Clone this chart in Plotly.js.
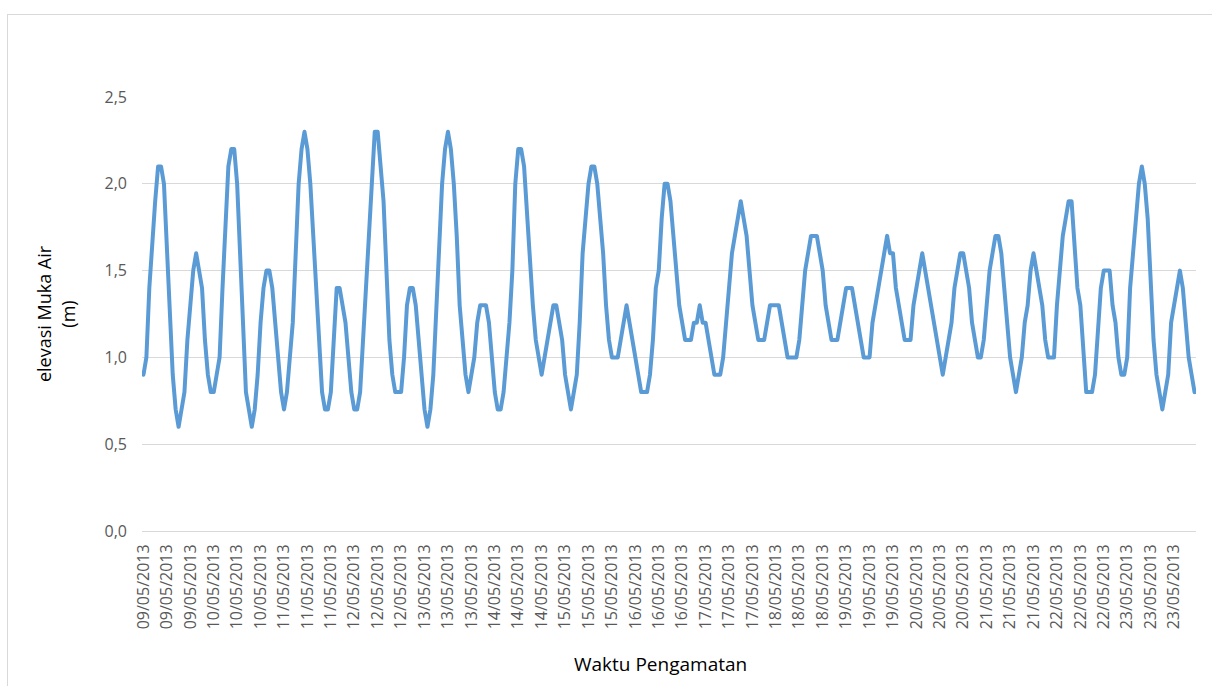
<!DOCTYPE html>
<html>
<head>
<meta charset="utf-8">
<script src="https://cdn.plot.ly/plotly-3.0.1.min.js"></script>
<style>
  html, body { margin: 0; padding: 0; background: #fff; overflow: hidden; }
  #chart { width: 1212px; height: 686px; }
  #frame { position: absolute; left: 7px; top: 14px; width: 1230px; height: 700px;
           border: 1px solid #d9d9d9; pointer-events: none; }
  #chart path.js-line { stroke-linejoin: round !important; stroke-linecap: round !important; }
</style>
</head>
<body>
<div id="chart"></div>
<div id="frame"></div>
<script>
// Elevasi muka air (m), pengamatan per jam, 24 nilai per hari
const h0905 = [0.9,1.0,1.4,1.7,1.9,2.1,2.1,2.0,1.6,1.2,0.9,0.7,0.6,0.7,0.8,1.1,1.3,1.5,1.6,1.5,1.4,1.1,0.9,0.8];
const h1005 = [0.8,0.9,1.0,1.4,1.8,2.1,2.2,2.2,2.0,1.6,1.1,0.8,0.7,0.6,0.7,0.9,1.2,1.4,1.5,1.5,1.4,1.2,1.0,0.8];
const h1105 = [0.7,0.8,1.0,1.2,1.6,2.0,2.2,2.3,2.2,2.0,1.7,1.4,1.0,0.8,0.7,0.7,0.8,1.1,1.4,1.4,1.3,1.2,1.0,0.8];
const h1205 = [0.7,0.7,0.8,1.1,1.5,1.8,2.1,2.3,2.3,2.1,1.9,1.5,1.1,0.9,0.8,0.8,0.8,1.0,1.3,1.4,1.4,1.3,1.1,0.9];
const h1305 = [0.7,0.6,0.7,0.9,1.3,1.6,2.0,2.2,2.3,2.2,2.0,1.7,1.3,1.1,0.9,0.8,0.9,1.0,1.2,1.3,1.3,1.3,1.2,1.0];
const h1405 = [0.8,0.7,0.7,0.8,1.0,1.2,1.5,2.0,2.2,2.2,2.1,1.8,1.6,1.3,1.1,1.0,0.9,1.0,1.1,1.2,1.3,1.3,1.2,1.1];
const h1505 = [0.9,0.8,0.7,0.8,0.9,1.2,1.6,1.8,2.0,2.1,2.1,2.0,1.8,1.6,1.3,1.1,1.0,1.0,1.0,1.1,1.2,1.3,1.2,1.1];
const h1605 = [1.0,0.9,0.8,0.8,0.8,0.9,1.1,1.4,1.5,1.8,2.0,2.0,1.9,1.7,1.5,1.3,1.2,1.1,1.1,1.1,1.2,1.2,1.3,1.2];
const h1705 = [1.2,1.1,1.0,0.9,0.9,0.9,1.0,1.2,1.4,1.6,1.7,1.8,1.9,1.8,1.7,1.5,1.3,1.2,1.1,1.1,1.1,1.2,1.3,1.3];
const h1805 = [1.3,1.3,1.2,1.1,1.0,1.0,1.0,1.0,1.1,1.3,1.5,1.6,1.7,1.7,1.7,1.6,1.5,1.3,1.2,1.1,1.1,1.1,1.2,1.3];
const h1905 = [1.4,1.4,1.4,1.3,1.2,1.1,1.0,1.0,1.0,1.2,1.3,1.4,1.5,1.6,1.7,1.6,1.6,1.4,1.3,1.2,1.1,1.1,1.1,1.3];
const h2005 = [1.4,1.5,1.6,1.5,1.4,1.3,1.2,1.1,1.0,0.9,1.0,1.1,1.2,1.4,1.5,1.6,1.6,1.5,1.4,1.2,1.1,1.0,1.0,1.1];
const h2105 = [1.3,1.5,1.6,1.7,1.7,1.6,1.4,1.2,1.0,0.9,0.8,0.9,1.0,1.2,1.3,1.5,1.6,1.5,1.4,1.3,1.1,1.0,1.0,1.0];
const h2205 = [1.3,1.5,1.7,1.8,1.9,1.9,1.6,1.4,1.3,1.0,0.8,0.8,0.8,0.9,1.2,1.4,1.5,1.5,1.5,1.3,1.2,1.0,0.9,0.9];
const h2305 = [1.0,1.4,1.6,1.8,2.0,2.1,2.0,1.8,1.4,1.1,0.9,0.8,0.7,0.8,0.9,1.2,1.3,1.4,1.5,1.4,1.2,1.0,0.9,0.8];

const tickLabels = [
  "09/05/2013","09/05/2013","09/05/2013","10/05/2013","10/05/2013","10/05/2013",
  "11/05/2013","11/05/2013","11/05/2013","12/05/2013","12/05/2013","12/05/2013",
  "13/05/2013","13/05/2013","13/05/2013","14/05/2013","14/05/2013","14/05/2013",
  "15/05/2013","15/05/2013","15/05/2013","16/05/2013","16/05/2013","16/05/2013",
  "17/05/2013","17/05/2013","17/05/2013","18/05/2013","18/05/2013","18/05/2013",
  "19/05/2013","19/05/2013","19/05/2013","20/05/2013","20/05/2013","20/05/2013",
  "21/05/2013","21/05/2013","21/05/2013","22/05/2013","22/05/2013","22/05/2013",
  "23/05/2013","23/05/2013","23/05/2013"
];

const xTitle = 'Waktu Pengamatan';
const yTitle = 'elevasi Muka Air<br>(m)';

const elevasi = [].concat(h0905,h1005,h1105,h1205,h1305,h1405,h1505,h1605,
                          h1705,h1805,h1905,h2005,h2105,h2205,h2305);
const jam = elevasi.map((_, i) => i);
const labelStep = elevasi.length / tickLabels.length;
const tickPos = tickLabels.map((_, i) => i * labelStep);

const FONT = 'Open Sans, Liberation Sans, sans-serif';

const trace = {
  x: jam, y: elevasi, type: 'scatter', mode: 'lines',
  line: { color: '#5b9bd5', width: 4 },
  hoverinfo: 'skip'
};

const layout = {
  width: 1212, height: 686,
  margin: { l: 142, r: 16, t: 97, b: 155, pad: 0 },
  paper_bgcolor: '#ffffff', plot_bgcolor: '#ffffff',
  separators: ', ',
  showlegend: false,
  xaxis: {
    range: [-0.5, elevasi.length - 0.5],
    tickmode: 'array', tickvals: tickPos, ticktext: tickLabels,
    tickangle: -90, ticks: '', ticklen: 0, ticklabelstandoff: 6,
    tickfont: { family: FONT, size: 16, color: '#595959' },
    showgrid: false, zeroline: false,
    showline: true, linecolor: '#d9d9d9', linewidth: 1,
    fixedrange: true, automargin: false
  },
  yaxis: {
    range: [0, 2.5], tick0: 0, dtick: 0.5, tickformat: '.1f',
    ticks: '', ticklen: 0, ticklabelstandoff: 14,
    tickfont: { family: FONT, size: 16, color: '#595959' },
    showgrid: true, gridcolor: '#d9d9d9', gridwidth: 1,
    zeroline: false, showline: false,
    fixedrange: true, automargin: false,
    title: { text: yTitle, font: { family: FONT, size: 18, color: '#000000' }, standoff: 24 }
  },
  annotations: [{
    text: xTitle, showarrow: false,
    xref: 'paper', yref: 'paper', x: 0.4915, y: 0,
    xanchor: 'center', yanchor: 'middle', yshift: -133,
    font: { family: FONT, size: 19, color: '#000000' }
  }]
};

Plotly.newPlot('chart', [trace], layout, { displayModeBar: false, staticPlot: true });
</script>
</body>
</html>
